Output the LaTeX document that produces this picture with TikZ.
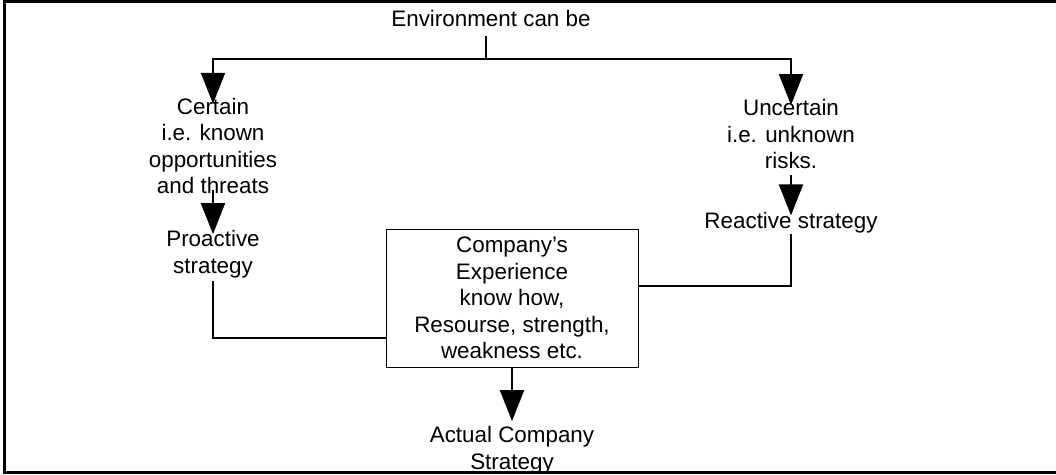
\documentclass[tikz,border=0pt]{standalone}
\usepackage{fontspec}
\setmainfont{Liberation Sans}
\usetikzlibrary{arrows.meta}
\begin{document}
\begin{tikzpicture}[x=1pt,y=-1pt,
  txt/.style={align=center,inner sep=0pt,font=\fontsize{22.4}{26.5}\selectfont},
  arr/.style={line width=2pt,-{Triangle[width=24pt,length=31pt]}},
  ln/.style={line width=2pt}]
\useasboundingbox (0,0) rectangle (1056,474);
\draw [line width=3pt] (1056,1.5) -- (4.5,1.5) -- (4.5,472.5) -- (1056,472.5);
\node (env) at (491,18) [txt] {Environment can be};
\node (certain) at (213,146) [txt] {Certain\\ i.e. known\\ opportunities\\ and threats};
\node (uncertain) at (791,134) [txt] {Uncertain\\ i.e. unknown\\ risks.};
\node (proactive) at (213,254) [txt] {Proactive\\ strategy};
\node (reactive) at (791,223) [txt] {Reactive strategy};
\node (exp) at (512,298) [txt,draw,line width=1pt,minimum width=252pt,minimum height=138pt] {Company's\\ Experience\\ know how,\\ Resourse, strength,\\ weakness etc.};
\node (actual) at (512,450) [txt] {Actual Company\\ Strategy};
\coordinate (split) at (486,59);
\draw [ln] ([yshift=-10pt]env.south -| split) -- (split);
\draw [arr,shorten >=-6pt] (split) -| (certain.north);
\draw [arr,shorten >=-6pt] (split) -| (uncertain.north);
\draw [arr,shorten <=-4pt,shorten >=-4pt] (certain.south) -- (proactive.north);
\draw [arr,shorten <=6pt,shorten >=-3pt] (uncertain.south) -- (reactive.north);
\draw [ln,shorten <=3pt] (proactive.south) |- ([yshift=-40pt]exp.west);
\draw [ln] (reactive.south) |- ([yshift=12pt]exp.east);
\draw [arr,shorten >=5pt] (exp.south) -- (actual.north);
\end{tikzpicture}
\end{document}
